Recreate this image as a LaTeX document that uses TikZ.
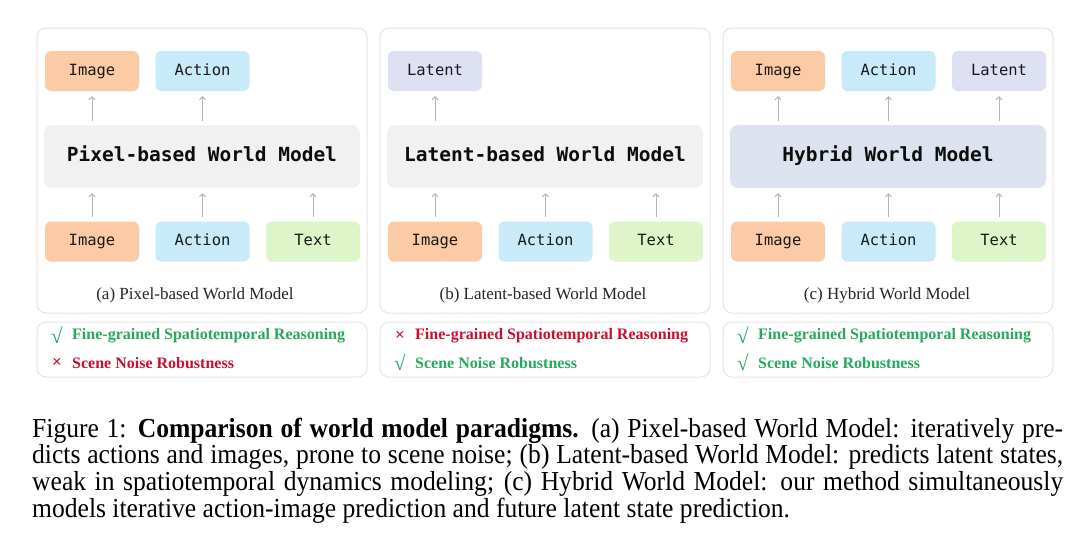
\documentclass[tikz,border=0pt]{standalone}
\usepackage{fontspec}
\setmainfont{Liberation Serif}
\setmonofont{DejaVu Sans Mono}
\newfontfamily\capfont[FakeStretch=0.93]{Liberation Serif}
\usetikzlibrary{arrows.meta}
\definecolor{imgc}{HTML}{FCCBA6}
\definecolor{actc}{HTML}{C9EAF8}
\definecolor{txtc}{HTML}{DDF5C9}
\definecolor{latc}{HTML}{DDE1F3}
\definecolor{modc}{HTML}{F1F1F1}
\definecolor{hybc}{HTML}{DCE2EE}
\definecolor{panc}{HTML}{E4E4E4}
\definecolor{okc}{HTML}{27A85F}
\definecolor{noc}{HTML}{C8102E}
\definecolor{arrc}{HTML}{B5B5B5}
\tikzset{
 panel/.style={draw=panc, line width=1pt, rounded corners=9pt, fill=white},
 lbox/.style={rounded corners=6pt, minimum width=94pt, minimum height=40pt, inner sep=0pt,
   text height=11.5pt, text depth=3.5pt,
   font=\fontsize{15.5}{18}\selectfont\ttfamily, text=black!90},
 mbox/.style={rounded corners=8pt, minimum width=316pt, minimum height=63pt, inner sep=0pt,
   text height=14.5pt, text depth=4pt,
   font=\fontsize{19.5}{22}\selectfont\ttfamily\bfseries, text=black!95},
 arr/.style={draw=arrc, line width=1pt, -{Straight Barb[length=3pt,width=6pt]}, shorten <=4pt, shorten >=5pt},
 capt/.style={font=\fontsize{17}{20}\selectfont, text=black!85},
 symok/.style={font=\fontsize{21}{22}\selectfont\bfseries, inner sep=0pt, text=okc},
 symno/.style={font=\fontsize{17}{20}\selectfont\bfseries, inner sep=0pt, text=noc},
 good/.style={font=\fontsize{16}{19}\selectfont\bfseries, text=okc, anchor=west, inner sep=0pt},
 bad/.style={font=\fontsize{16}{19}\selectfont\bfseries, text=noc, anchor=west, inner sep=0pt},
}
\begin{document}
\begin{tikzpicture}[x=1pt,y=-1pt]
\useasboundingbox (0,0) rectangle (1080,552);
\fill[white] (0,0) rectangle (1080,552);
% panels
\draw[panel] (37,28) rectangle (367,313);
\draw[panel] (380,28) rectangle (710,313);
\draw[panel] (723,28) rectangle (1053,313);
\draw[panel] (37,322) rectangle (367,377);
\draw[panel] (380,322) rectangle (710,377);
\draw[panel] (723,322) rectangle (1053,377);
% panel a
\node[mbox, fill=modc] (ma) at (202,156.5) {Pixel-based World Model};
\node[lbox, fill=imgc] (ta1) at (92,71) {Image};
\node[lbox, fill=actc] (ta2) at (202.5,71) {Action};
\node[lbox, fill=imgc] (ba1) at (92,241.5) {Image};
\node[lbox, fill=actc] (ba2) at (202.5,241.5) {Action};
\node[lbox, fill=txtc] (ba3) at (313,241.5) {Text};
\draw[arr] (ma.north -| ta1) -- (ta1.south);
\draw[arr] (ma.north -| ta2) -- (ta2.south);
\draw[arr] (ba1.north) -- (ma.south -| ba1);
\draw[arr] (ba2.north) -- (ma.south -| ba2);
\draw[arr] (ba3.north) -- (ma.south -| ba3);
\node[capt] (ca) at (195,295) {(a) Pixel-based World Model};
% panel b
\node[mbox, fill=modc] (mb) at (545,156.5) {Latent-based World Model};
\node[lbox, fill=latc] (tb1) at (435,71) {Latent};
\node[lbox, fill=imgc] (bb1) at (435,241.5) {Image};
\node[lbox, fill=actc] (bb2) at (545.5,241.5) {Action};
\node[lbox, fill=txtc] (bb3) at (656,241.5) {Text};
\draw[arr] (mb.north -| tb1) -- (tb1.south);
\draw[arr] (bb1.north) -- (mb.south -| bb1);
\draw[arr] (bb2.north) -- (mb.south -| bb2);
\draw[arr] (bb3.north) -- (mb.south -| bb3);
\node[capt] (cb) at (543,295) {(b) Latent-based World Model};
% panel c
\node[mbox, fill=hybc] (mc) at (888,156.5) {Hybrid World Model};
\node[lbox, fill=imgc] (tc1) at (778,71) {Image};
\node[lbox, fill=actc] (tc2) at (888.5,71) {Action};
\node[lbox, fill=latc] (tc3) at (999,71) {Latent};
\node[lbox, fill=imgc] (bc1) at (778,241.5) {Image};
\node[lbox, fill=actc] (bc2) at (888.5,241.5) {Action};
\node[lbox, fill=txtc] (bc3) at (999,241.5) {Text};
\draw[arr] (mc.north -| tc1) -- (tc1.south);
\draw[arr] (mc.north -| tc2) -- (tc2.south);
\draw[arr] (mc.north -| tc3) -- (tc3.south);
\draw[arr] (bc1.north) -- (mc.south -| bc1);
\draw[arr] (bc2.north) -- (mc.south -| bc2);
\draw[arr] (bc3.north) -- (mc.south -| bc3);
\node[capt] (cc) at (887,295) {(c) Hybrid World Model};
% properties
\node[symok] (sa1) at (57,335.5) {√};
\node[good] (pa1) at (72,336) {Fine-grained Spatiotemporal Reasoning};
\node[symno] (sa2) at (57,363) {×};
\node[bad] (pa2) at (72,363) {Scene Noise Robustness};
\node[symno] (sb1) at (400,336) {×};
\node[bad] (pb1) at (415,336) {Fine-grained Spatiotemporal Reasoning};
\node[symok] (sb2) at (400,362.5) {√};
\node[good] (pb2) at (415,363) {Scene Noise Robustness};
\node[symok] (sc1) at (743,335.5) {√};
\node[good] (pc1) at (758,336) {Fine-grained Spatiotemporal Reasoning};
\node[symok] (sc2) at (743,362.5) {√};
\node[good] (pc2) at (758,363) {Scene Noise Robustness};
% caption
\node[anchor=base west, inner sep=0pt, font=\capfont\fontsize{27.5}{26.7}\selectfont] (cap) at (32,437)
 {\vtop{%
 \hbox to 1031pt{Figure 1: \textbf{Comparison of world model paradigms.} (a) Pixel-based World Model: iteratively pre-}%
 \hbox to 1031pt{dicts actions and images, prone to scene noise; (b) Latent-based World Model: predicts latent states,}%
 \hbox to 1031pt{weak in spatiotemporal dynamics modeling; (c) Hybrid World Model: our method simultaneously}%
 \hbox{models iterative action-image prediction and future latent state prediction.}}};
\end{tikzpicture}
\end{document}
